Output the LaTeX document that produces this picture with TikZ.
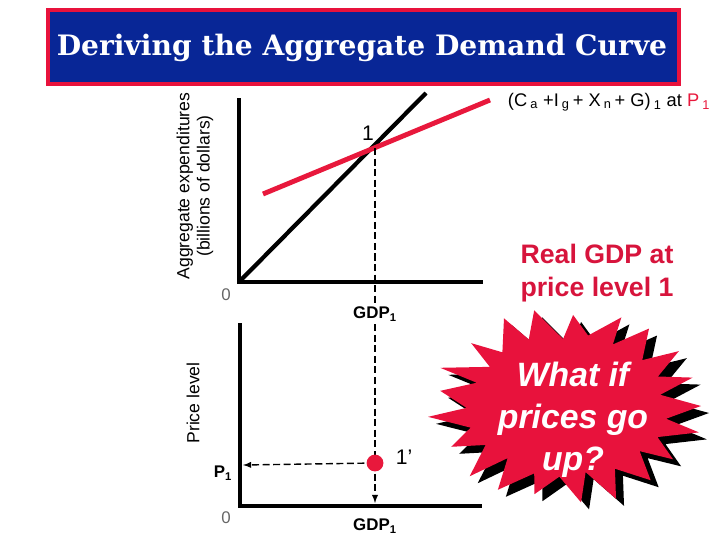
\documentclass[tikz,border=0pt]{standalone}
\usepackage{fontspec}
\setmainfont{Liberation Sans}
\newfontfamily\titlefont{DejaVu Serif}
\definecolor{bannerblue}{RGB}{8,38,150}
\definecolor{bannerred}{RGB}{232,18,60}
\definecolor{aered}{RGB}{232,24,60}
\definecolor{labelred}{RGB}{215,20,60}

\begin{document}
\begin{tikzpicture}[x=0.025cm,y=-0.025cm]
\useasboundingbox (0,0) rectangle (720,540);

\tikzset{
  axis/.style={line width=3.5pt},
  guide/.style={dash pattern=on 5pt off 2.5pt, line width=1pt},
  lbl/.style={font=\fontsize{12.5}{14.5}\selectfont},
  gdplbl/.style={font=\bfseries\fontsize{12}{14}\selectfont},
  zero/.style={text=black!60, font=\fontsize{12}{14}\selectfont}
}

\filldraw[fill=bannerblue, draw=bannerred, line width=3pt] (48,10) rectangle (679,84);
\node (title) at (362,48) [text=white, font=\titlefont\bfseries\fontsize{20}{24}\selectfont]
  {Deriving the Aggregate Demand Curve};

% upper graph
\coordinate (o1) at (239,282);
\coordinate (e1) at (375,148);
\draw[axis] (239,98) -- (o1) -- (483,282);
\draw[line width=3pt] (o1) -- (426,93);
\draw[aered, line width=3.5pt] (263,194) -- (490,100);
\node (one) at (368,133) [font=\fontsize{15}{17}\selectfont] {1};
\node (ae) at (195,186) [rotate=90, align=center, lbl] {Aggregate expenditures\\(billions of dollars)};
\node (z1) at (226,295) [zero] {0};
\node (gdpa) at (375,314) [gdplbl, inner sep=2pt] {GDP\textsubscript{1}};
\node (aelbl) at (609,102) [font=\fontsize{13}{15}\selectfont]
  {(C\,\textsubscript{a} +I\,\textsubscript{g}\,+ X\,\textsubscript{n}\,+ G)\,\textsubscript{1} at \textcolor{aered}{P\,\textsubscript{1}}};
\node (real) at (597,273) [align=center, text=labelred, font=\bfseries\fontsize{19}{24}\selectfont]
  {Real GDP at\\price level 1};
\draw[guide] (e1) -- (gdpa.north);

% lower graph
\coordinate (o2) at (240,506);
\coordinate (dot) at (375,463);
\coordinate (p1) at (243,465);
\coordinate (g2) at (375,503);
\draw[axis] (240,323) -- (o2) -- (482,506);
\draw[guide] (gdpa.south) -- (dot);
\draw[guide, -latex] (dot) -- (p1);
\draw[guide, -latex] (dot) -- (g2);
\fill[aered] (dot) circle (0.21cm);
\node (onep) at (404,457) [font=\fontsize{15}{17}\selectfont] {1’};
\node (pl) at (193,403) [rotate=90, lbl] {Price level};
\node (plbl) at (223,473) [gdplbl] {P\textsubscript{1}};
\node (z2) at (226,518) [zero] {0};
\node (gdpb) at (375,526) [gdplbl] {GDP\textsubscript{1}};

% burst
\fill[black] plot[samples at={0,...,41}, variable=\k]
  ({575+cos(\k*360/42+2*sin(\k*131))*(mod(\k,2)==0 ? 134+6*sin(\k*77) : 98+4*sin(\k*41))},
   {413+sin(\k*360/42+2*sin(\k*131))*(mod(\k,2)==0 ? 96+5*sin(\k*53) : 70+3*sin(\k*67))}) -- cycle;
\fill[bannerred] plot[samples at={0,...,41}, variable=\k]
  ({567+cos(\k*360/42+2*sin(\k*131))*(mod(\k,2)==0 ? 134+6*sin(\k*77) : 98+4*sin(\k*41))},
   {406+sin(\k*360/42+2*sin(\k*131))*(mod(\k,2)==0 ? 96+5*sin(\k*53) : 70+3*sin(\k*67))}) -- cycle;
\node (what) at (573,420) [align=center, text=white, font=\bfseries\itshape\fontsize{24}{30}\selectfont]
  {What if\\prices go\\up?};

\end{tikzpicture}
\end{document}
